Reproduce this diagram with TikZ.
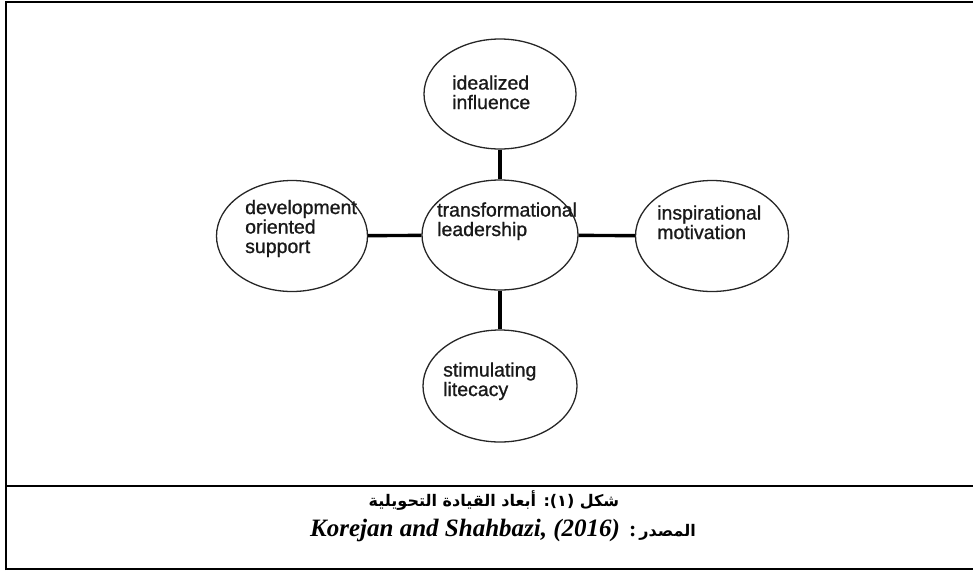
\documentclass[tikz,border=0pt]{standalone}
\usepackage{fontspec}
\setmainfont{Liberation Sans}
\newfontfamily\lblfont[FakeBold=1]{Liberation Sans}
\newfontfamily\arabicfont[Script=Arabic]{DejaVu Sans}
\newfontfamily\capserif{Liberation Serif}
\TeXXeTstate=1
\usetikzlibrary{shapes.geometric}
\begin{document}
\begin{tikzpicture}[x=1pt,y=-1pt,
  bubble/.style={ellipse,draw=black!85,line width=1.3pt,inner sep=0pt},
  conn/.style={line width=3.4pt,black},
  lbl/.style={anchor=base west,align=left,inner sep=0pt,text=black!90,
    font=\lblfont\fontsize{19.5}{19.5}\selectfont},
  captext/.style={anchor=base,inner sep=0pt,font=\arabicfont\bfseries\fontsize{16}{19}\selectfont},
  frame/.style={line width=2pt,black}]
\useasboundingbox (0,0) rectangle (973,571);
% frame
\draw[frame] (6,570) -- (6,2.2) -- (973,2.2);
\draw[frame] (6,486.3) -- (973,486.3);
\draw[frame] (6,569) -- (973,569);
% bubbles
\node[bubble,minimum width=152pt,minimum height=110pt] (ideal) at (500,94) {};
\node[bubble,minimum width=156pt,minimum height=110pt] (trans) at (500,235) {};
\node[bubble,minimum width=151pt,minimum height=111pt] (dev) at (292,236) {};
\node[bubble,minimum width=153pt,minimum height=111pt] (insp) at (712,236) {};
\node[bubble,minimum width=154pt,minimum height=112pt] (stim) at (500,386) {};
% connectors
\draw[conn] (ideal) -- (trans);
\draw[conn] (trans) -- (stim);
\draw[conn] (dev) -- (trans);
\draw[conn] (trans) -- (insp);
% labels (anchor = baseline of the last line)
\node[lbl] (tideal) at (452,109) {idealized\\influence};
\node[lbl] (tdev) at (245,253) {development\\oriented\\support};
\node[lbl] (ttrans) at (437,236) {transformational\\leadership};
\node[lbl] (tinsp) at (657,239) {inspirational\\motivation};
\node[lbl] (tstim) at (443,396) {stimulating\\litecacy};
% caption
\node[captext] (cap1) at (494,506)
  {\beginR شكل (١): أبعاد القيادة التحويلية\endR};
\node[captext] (cap2) at (503,536)
  {\beginR المصدر\hspace{3pt}{\capserif\bfseries\fontsize{22}{24}\selectfont:}\hspace{9pt}\beginL{\capserif\bfseries\itshape\fontsize{25}{27}\selectfont Korejan and Shahbazi, (2016)}\endL\endR};
\end{tikzpicture}
\end{document}
